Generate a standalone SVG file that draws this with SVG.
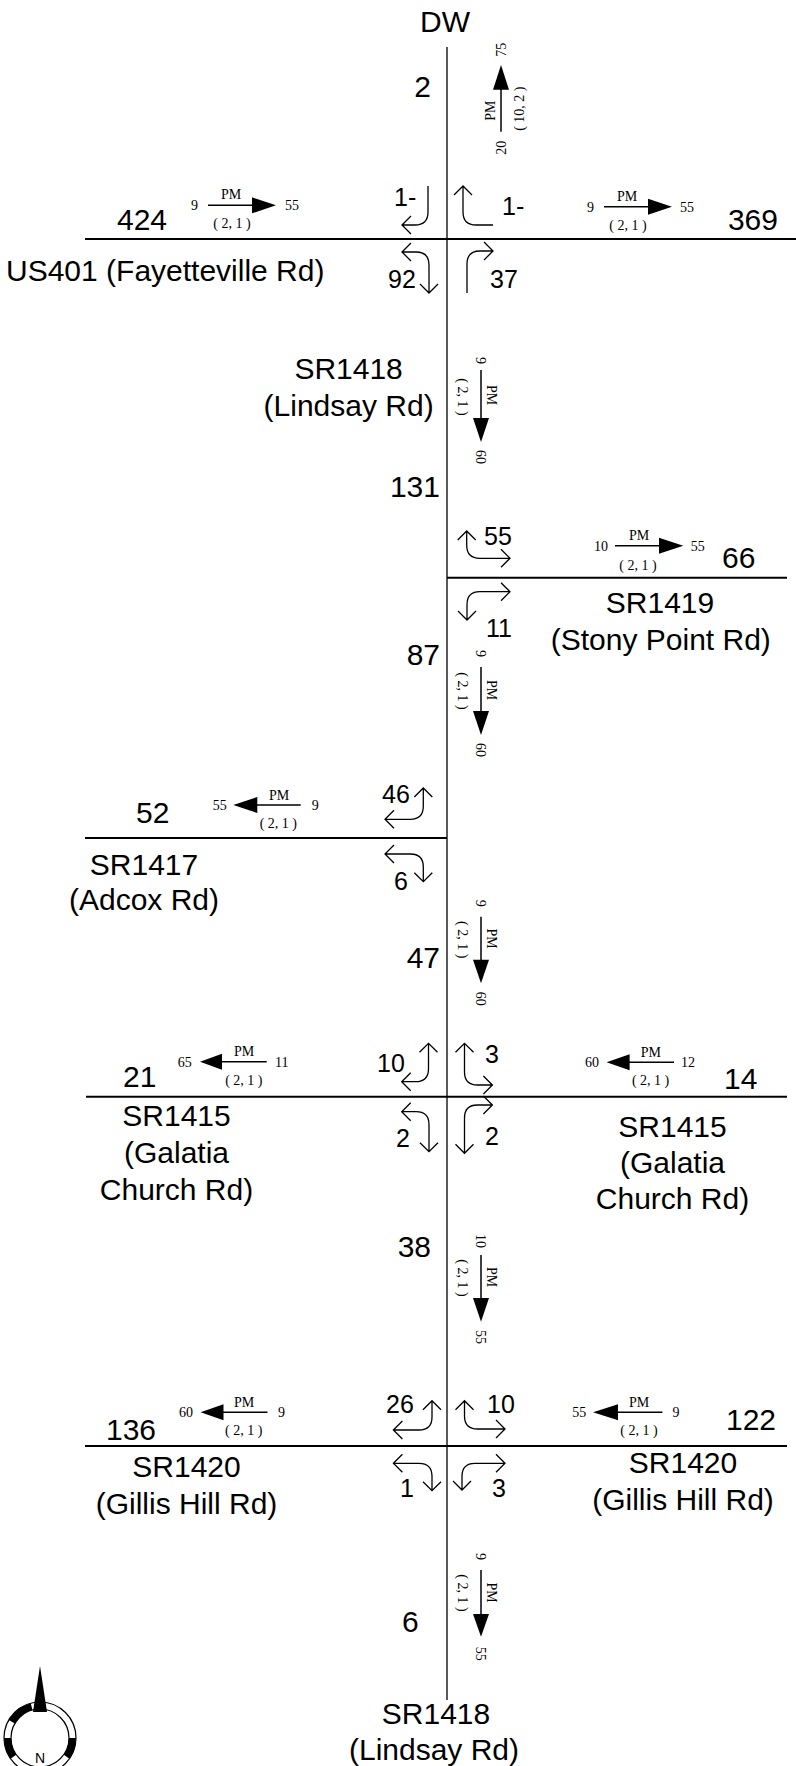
<svg xmlns="http://www.w3.org/2000/svg" width="796" height="1766" viewBox="0 0 796 1766">
<style>
.rv{stroke:#000;stroke-width:1.3;fill:none}
.rh{stroke:#000;stroke-width:2;fill:none}
.turn{stroke:#000;stroke-width:1.3;fill:none}
.fl{stroke:#000;stroke-width:1.5;fill:none}
.hd{fill:#000;stroke:none}
.big{font-family:"Liberation Sans",Arial,sans-serif;font-size:30px;fill:#000}
.vol{font-family:"Liberation Sans",Arial,sans-serif;font-size:25px;fill:#000}
.sm{font-family:"Liberation Serif","Times New Roman",serif;font-size:14px;fill:#000}
.mid{text-anchor:middle}
.end{text-anchor:end}
</style>
<rect width="796" height="1766" fill="#fff"/>

<g id="roads">
<line class="rv" x1="447" y1="47" x2="447" y2="1700"/>
<line class="rh" x1="85" y1="239" x2="796" y2="239"/>
<line class="rh" x1="447" y1="577.7" x2="787" y2="577.7"/>
<line class="rh" x1="85" y1="838" x2="447" y2="838"/>
<line class="rh" x1="86" y1="1096.7" x2="787" y2="1096.7"/>
<line class="rh" x1="85" y1="1446" x2="787" y2="1446"/>
</g>

<g id="labels">
<text class="big mid" x="445" y="32">DW</text>
<text class="big end" x="431" y="96.7">2</text>
<text class="big" x="117" y="230">424</text>
<text class="big end" x="778" y="230">369</text>
<text class="big" x="6" y="281">US401 (Fayetteville Rd)</text>
<text class="big mid" x="348.6" y="379">SR1418</text>
<text class="big mid" x="348.6" y="416">(Lindsay Rd)</text>
<text class="big end" x="440" y="497">131</text>
<text class="big" x="722" y="568">66</text>
<text class="big mid" x="660" y="613">SR1419</text>
<text class="big mid" x="660.8" y="650">(Stony Point Rd)</text>
<text class="big end" x="440" y="665">87</text>
<text class="big" x="136" y="823">52</text>
<text class="big mid" x="144" y="875">SR1417</text>
<text class="big mid" x="144" y="910">(Adcox Rd)</text>
<text class="big end" x="440" y="968">47</text>
<text class="big" x="123" y="1086.5">21</text>
<text class="big" x="724" y="1089">14</text>
<text class="big mid" x="176.5" y="1126">SR1415</text>
<text class="big mid" x="176.5" y="1163">(Galatia</text>
<text class="big mid" x="176.5" y="1200">Church Rd)</text>
<text class="big mid" x="672.5" y="1137">SR1415</text>
<text class="big mid" x="672.5" y="1173">(Galatia</text>
<text class="big mid" x="672.5" y="1209">Church Rd)</text>
<text class="big end" x="431" y="1256.7">38</text>
<text class="big" x="106" y="1440">136</text>
<text class="big" x="726" y="1430">122</text>
<text class="big mid" x="186.5" y="1477">SR1420</text>
<text class="big mid" x="186.5" y="1514">(Gillis Hill Rd)</text>
<text class="big mid" x="683" y="1473">SR1420</text>
<text class="big mid" x="683" y="1510">(Gillis Hill Rd)</text>
<text class="big" x="402" y="1631.7">6</text>
<text class="big mid" x="436" y="1724">SR1418</text>
<text class="big mid" x="434" y="1760">(Lindsay Rd)</text>
</g>

<g id="turn-labels">
<text class="vol" x="394" y="206">1-</text>
<text class="vol" x="502" y="215">1-</text>
<text class="vol" x="388" y="288">92</text>
<text class="vol" x="490" y="288">37</text>
<text class="vol" x="484" y="545">55</text>
<text class="vol" x="486" y="637">11</text>
<text class="vol" x="382" y="803">46</text>
<text class="vol" x="394" y="890">6</text>
<text class="vol" x="377" y="1071.7">10</text>
<text class="vol" x="485" y="1062.7">3</text>
<text class="vol" x="396" y="1146.7">2</text>
<text class="vol" x="485" y="1145">2</text>
<text class="vol" x="386" y="1413">26</text>
<text class="vol" x="487" y="1412.7">10</text>
<text class="vol" x="400" y="1496.7">1</text>
<text class="vol" x="492" y="1496.7">3</text>
</g>

<g id="turn-arrows" class="turn">
<!-- US401 -->
<path d="M428,186 V212 Q428,225 415,225 H402 M411,216 L402,225 L411,234"/>
<path d="M493,225 H476 Q463,225 463,212 V186 M454,195 L463,186 L472,195"/>
<path d="M402,252 H416 Q429,252 429,265 V293 M411,243 L402,252 L411,261 M420,284 L429,293 L438,284"/>
<path d="M467,293 V264 Q467,251 480,251 H493 M484,242 L493,251 L484,260"/>
<!-- SR1419 -->
<path d="M466.7,531 V545.3 Q466.7,558.3 479.7,558.3 H510 M457.7,540 L466.7,531 L475.7,540 M501,549.3 L510,558.3 L501,567.3"/>
<path d="M510,591.7 H480 Q467,591.7 467,604.7 V620 M501,582.7 L510,591.7 L501,600.7 M458,611 L467,620 L476,611"/>
<!-- SR1417 -->
<path d="M423.3,788 V806.3 Q423.3,819.3 410.3,819.3 H385 M414.3,797 L423.3,788 L432.3,797 M394,810.3 L385,819.3 L394,828.3"/>
<path d="M385,854 H410.3 Q423.3,854 423.3,867 V881.7 M394,845 L385,854 L394,863 M414.3,872.7 L423.3,881.7 L432.3,872.7"/>
<!-- SR1415 -->
<path d="M428.5,1043.3 V1068.7 Q428.5,1081.7 415.5,1081.7 H401.7 M419.5,1052.3 L428.5,1043.3 L437.5,1052.3 M410.7,1072.7 L401.7,1081.7 L410.7,1090.7"/>
<path d="M464.5,1043.3 V1072 Q464.5,1085 477.5,1085 H492.4 M455.5,1052.3 L464.5,1043.3 L473.5,1052.3 M483.4,1076 L492.4,1085 L483.4,1094"/>
<path d="M401.7,1111.7 H416 Q429,1111.7 429,1124.7 V1151.7 M410.7,1102.7 L401.7,1111.7 L410.7,1120.7 M420,1142.7 L429,1151.7 L438,1142.7"/>
<path d="M492.4,1105 H477.5 Q464.5,1105 464.5,1118 V1153.3 M483.4,1096 L492.4,1105 L483.4,1114 M455.5,1144.3 L464.5,1153.3 L473.5,1144.3"/>
<!-- SR1420 -->
<path d="M432,1400.7 V1417 Q432,1430 419,1430 H393.4 M423,1409.7 L432,1400.7 L441,1409.7 M402.4,1421 L393.4,1430 L402.4,1439"/>
<path d="M464.5,1400.7 V1416 Q464.5,1429 477.5,1429 H505 M455.5,1409.7 L464.5,1400.7 L473.5,1409.7 M496,1420 L505,1429 L496,1438"/>
<path d="M393.4,1463.3 H419 Q432,1463.3 432,1476.3 V1490.7 M402.4,1454.3 L393.4,1463.3 L402.4,1472.3 M423,1481.7 L432,1490.7 L441,1481.7"/>
<path d="M505,1463.3 H475 Q462,1463.3 462,1476.3 V1490 M496,1454.3 L505,1463.3 L496,1472.3 M453,1481 L462,1490 L471,1481"/>
</g>

<g id="flow-us401-w" transform="translate(208,205.3)">
<line class="fl" x1="0" y1="0" x2="45" y2="0"/>
<polygon class="hd" points="44,-8 68,0 44,8"/>
<text class="sm end" x="-10" y="5">9</text>
<text class="sm" x="77" y="5">55</text>
<text class="sm mid" x="23" y="-6">PM</text>
<text class="sm mid" x="24" y="23">( 2, 1 )</text>
</g>
<g id="flow-us401-e" transform="translate(604,206.7)">
<line class="fl" x1="0" y1="0" x2="45" y2="0"/>
<polygon class="hd" points="44,-8 68,0 44,8"/>
<text class="sm end" x="-10" y="5">9</text>
<text class="sm" x="76" y="5">55</text>
<text class="sm mid" x="23" y="-6">PM</text>
<text class="sm mid" x="24" y="23">( 2, 1 )</text>
</g>
<g id="flow-dw-n" transform="translate(501,131.7) rotate(-90)">
<line class="fl" x1="0" y1="0" x2="43" y2="0"/>
<polygon class="hd" points="42,-8 66.7,0 42,8"/>
<text class="sm end" x="-9" y="5">20</text>
<text class="sm" x="75" y="5">75</text>
<text class="sm mid" x="21" y="-6">PM</text>
<text class="sm mid" x="23" y="23">( 10, 2 )</text>
</g>
<g id="flow-sr1418-s1" transform="translate(481,370) rotate(90)">
<line class="fl" x1="0" y1="0" x2="49" y2="0"/>
<polygon class="hd" points="48,-8 72,0 48,8"/>
<text class="sm end" x="-6" y="5">9</text>
<text class="sm" x="80" y="5">60</text>
<text class="sm mid" x="25" y="-6">PM</text>
<text class="sm mid" x="27" y="23">( 2, 1 )</text>
</g>
<g id="flow-sr1419-e" transform="translate(615,545.7)">
<line class="fl" x1="0" y1="0" x2="45" y2="0"/>
<polygon class="hd" points="44,-8 68.3,0 44,8"/>
<text class="sm end" x="-7" y="5">10</text>
<text class="sm" x="75.7" y="5">55</text>
<text class="sm mid" x="24" y="-6">PM</text>
<text class="sm mid" x="23" y="24">( 2, 1 )</text>
</g>
<g id="flow-sr1418-s2" transform="translate(481,667) rotate(90)">
<line class="fl" x1="0" y1="0" x2="45" y2="0"/>
<polygon class="hd" points="44,-8 68,0 44,8"/>
<text class="sm end" x="-10" y="5">9</text>
<text class="sm" x="76" y="5">60</text>
<text class="sm mid" x="23" y="-6">PM</text>
<text class="sm mid" x="24" y="23">( 2, 1 )</text>
</g>
<g id="flow-sr1417-w" transform="translate(233.3,805)">
<line class="fl" x1="23" y1="0" x2="67.4" y2="0"/>
<polygon class="hd" points="24,-8 0,0 24,8"/>
<text class="sm end" x="-6.6" y="5">55</text>
<text class="sm" x="78.4" y="5">9</text>
<text class="sm mid" x="45.7" y="-5.5">PM</text>
<text class="sm mid" x="45" y="23">( 2, 1 )</text>
</g>
<g id="flow-sr1418-s3" transform="translate(481,916.7) rotate(90)">
<line class="fl" x1="0" y1="0" x2="44" y2="0"/>
<polygon class="hd" points="43,-8 66.6,0 43,8"/>
<text class="sm end" x="-10" y="5">9</text>
<text class="sm" x="75" y="5">60</text>
<text class="sm mid" x="22" y="-6">PM</text>
<text class="sm mid" x="23" y="23">( 2, 1 )</text>
</g>
<g id="flow-sr1415-w" transform="translate(200,1061.7)">
<line class="fl" x1="20" y1="0" x2="66.7" y2="0"/>
<polygon class="hd" points="22,-8 0,0 22,8"/>
<text class="sm end" x="-8.3" y="5">65</text>
<text class="sm" x="75" y="5">11</text>
<text class="sm mid" x="44" y="-5.5">PM</text>
<text class="sm mid" x="43.8" y="23">( 2, 1 )</text>
</g>
<g id="flow-sr1415-e" transform="translate(606.6,1062.3)">
<line class="fl" x1="20" y1="0" x2="67.4" y2="0"/>
<polygon class="hd" points="23,-8 0,0 23,8"/>
<text class="sm end" x="-7.6" y="5">60</text>
<text class="sm" x="74.4" y="5">12</text>
<text class="sm mid" x="44.2" y="-5.5">PM</text>
<text class="sm mid" x="44" y="23">( 2, 1 )</text>
</g>
<g id="flow-sr1418-s4" transform="translate(481,1255) rotate(90)">
<line class="fl" x1="0" y1="0" x2="44" y2="0"/>
<polygon class="hd" points="43,-8 66.7,0 43,8"/>
<text class="sm end" x="-7" y="5">10</text>
<text class="sm" x="75" y="5">55</text>
<text class="sm mid" x="22" y="-6">PM</text>
<text class="sm mid" x="23" y="23">( 2, 1 )</text>
</g>
<g id="flow-sr1420-w" transform="translate(200.5,1412.3)">
<line class="fl" x1="22" y1="0" x2="67" y2="0"/>
<polygon class="hd" points="23,-8 0,0 23,8"/>
<text class="sm end" x="-7.5" y="5">60</text>
<text class="sm" x="77.5" y="5">9</text>
<text class="sm mid" x="43.6" y="-5.5">PM</text>
<text class="sm mid" x="43.2" y="23">( 2, 1 )</text>
</g>
<g id="flow-sr1420-e" transform="translate(593,1412.3)">
<line class="fl" x1="22" y1="0" x2="69.4" y2="0"/>
<polygon class="hd" points="25,-8 0,0 25,8"/>
<text class="sm end" x="-6.7" y="5">55</text>
<text class="sm" x="79.6" y="5">9</text>
<text class="sm mid" x="46" y="-5.5">PM</text>
<text class="sm mid" x="46" y="23">( 2, 1 )</text>
</g>
<g id="flow-sr1418-s5" transform="translate(481,1570) rotate(90)">
<line class="fl" x1="0" y1="0" x2="45" y2="0"/>
<polygon class="hd" points="44,-8 66.7,0 44,8"/>
<text class="sm end" x="-10" y="5">9</text>
<text class="sm" x="76.7" y="5">55</text>
<text class="sm mid" x="22.5" y="-6">PM</text>
<text class="sm mid" x="23" y="23">( 2, 1 )</text>
</g>

<g id="compass">
<circle cx="40" cy="1738" r="36" fill="none" stroke="#000" stroke-width="1.2"/>
<circle cx="40" cy="1738" r="29" fill="none" stroke="#000" stroke-width="1.2"/>
<path d="M8.82,1720 A36,36 0 0 1 30.68,1703.23 L32.49,1709.99 A29,29 0 0 0 14.89,1723.5 Z" fill="#000"/>
<path d="M76,1738 A36,36 0 0 1 69.49,1758.65 L63.76,1754.63 A29,29 0 0 0 69,1738 Z" fill="#000"/>
<path d="M10.51,1758.65 A36,36 0 0 1 4,1738 L11,1738 A29,29 0 0 0 16.24,1754.63 Z" fill="#000"/>
<polygon points="40,1666 47,1712 33,1712" fill="#000"/>
<text x="40" y="1763" text-anchor="middle" font-family="Liberation Sans,Arial,sans-serif" font-size="14">N</text>
</g>
</svg>
